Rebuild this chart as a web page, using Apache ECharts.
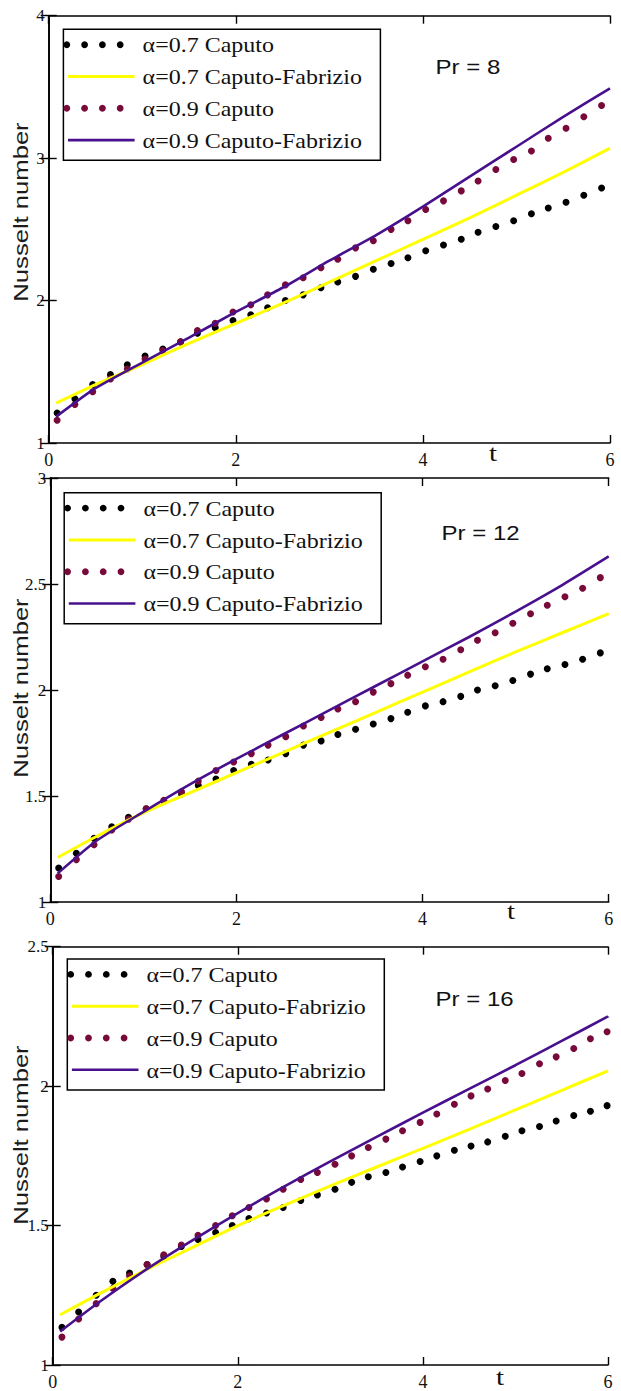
<!DOCTYPE html>
<html>
<head>
<meta charset="utf-8">
<script src="https://cdn.jsdelivr.net/npm/echarts@6/dist/echarts.min.js"></script>
<style>
  html, body { margin: 0; padding: 0; background: #fff; }
  #chart { width: 621px; height: 1391px; }
</style>
</head>
<body>
<div id="chart"></div>
<script>
// Sample times of the dotted (Caputo) solutions
const tDots = [0.09, 0.28, 0.47, 0.66, 0.84, 1.03, 1.22, 1.41, 1.59, 1.78, 1.97, 2.16, 2.34, 2.53, 2.72, 2.91,
               3.09, 3.28, 3.47, 3.66, 3.84, 4.03, 4.22, 4.41, 4.59, 4.78, 4.97, 5.16, 5.34, 5.53, 5.72, 5.91];
const tDots16 = [0.10, 0.28, 0.47, 0.65, 0.83, 1.02, 1.20, 1.39, 1.57, 1.76, 1.94, 2.12, 2.31, 2.49, 2.68, 2.86, 3.05,
                 3.23, 3.41, 3.60, 3.78, 3.97, 4.15, 4.34, 4.52, 4.70, 4.89, 5.07, 5.26, 5.44, 5.63, 5.81, 5.99];
// Sample times of the solid (Caputo-Fabrizio) solutions
const tLine = [0.08, 0.5, 1, 1.5, 2, 2.5, 3, 3.5, 4, 4.5, 5, 5.5, 6];

// Pr = 8
const capA07_Pr8 = [1.21, 1.31, 1.41, 1.48, 1.55, 1.61, 1.66, 1.71, 1.77, 1.81, 1.86, 1.90, 1.95, 2.00, 2.04, 2.09,
                    2.13, 2.17, 2.22, 2.26, 2.30, 2.35, 2.39, 2.43, 2.48, 2.52, 2.56, 2.61, 2.65, 2.69, 2.74, 2.79];
const capA09_Pr8 = [1.16, 1.27, 1.36, 1.45, 1.52, 1.59, 1.65, 1.71, 1.79, 1.84, 1.92, 1.97, 2.04, 2.11, 2.16, 2.23,
                    2.29, 2.37, 2.42, 2.50, 2.56, 2.64, 2.70, 2.77, 2.84, 2.92, 2.99, 3.05, 3.14, 3.21, 3.29, 3.37];
const cfA07_Pr8 = [1.28, 1.41, 1.55, 1.70, 1.84, 1.98, 2.13, 2.28, 2.43, 2.58, 2.74, 2.90, 3.07];
const cfA09_Pr8 = [1.185, 1.385, 1.565, 1.74, 1.92, 2.09, 2.28, 2.46, 2.66, 2.87, 3.08, 3.29, 3.49];

// Pr = 12
const capA07_Pr12 = [1.16, 1.23, 1.30, 1.355, 1.40, 1.44, 1.475, 1.51, 1.55, 1.58, 1.62, 1.65, 1.67, 1.70, 1.74, 1.76,
                     1.79, 1.815, 1.84, 1.865, 1.895, 1.925, 1.945, 1.97, 2.00, 2.02, 2.045, 2.075, 2.10, 2.12, 2.145, 2.175];
const capA09_Pr12 = [1.12, 1.20, 1.27, 1.34, 1.39, 1.44, 1.48, 1.52, 1.57, 1.62, 1.66, 1.70, 1.74, 1.78, 1.83, 1.87,
                     1.91, 1.945, 1.99, 2.03, 2.07, 2.11, 2.145, 2.19, 2.235, 2.27, 2.315, 2.36, 2.40, 2.44, 2.48, 2.53];
const cfA07_Pr12 = [1.21, 1.31, 1.42, 1.515, 1.61, 1.705, 1.80, 1.895, 1.99, 2.085, 2.18, 2.27, 2.36];
const cfA09_Pr12 = [1.135, 1.29, 1.425, 1.555, 1.675, 1.79, 1.905, 2.02, 2.135, 2.25, 2.37, 2.495, 2.63];

// Pr = 16
const capA07_Pr16 = [1.135, 1.19, 1.25, 1.30, 1.33, 1.36, 1.39, 1.425, 1.45, 1.475, 1.50, 1.525, 1.545, 1.565, 1.59, 1.61, 1.63,
                     1.655, 1.675, 1.69, 1.71, 1.73, 1.75, 1.77, 1.785, 1.80, 1.82, 1.84, 1.855, 1.875, 1.895, 1.91, 1.93];
const capA09_Pr16 = [1.10, 1.165, 1.22, 1.275, 1.32, 1.36, 1.395, 1.43, 1.465, 1.50, 1.535, 1.565, 1.595, 1.63, 1.665, 1.69, 1.72,
                     1.75, 1.78, 1.81, 1.84, 1.87, 1.90, 1.935, 1.965, 1.99, 2.02, 2.045, 2.08, 2.105, 2.135, 2.17, 2.195];
const cfA07_Pr16 = [1.18, 1.255, 1.34, 1.42, 1.50, 1.572, 1.642, 1.71, 1.777, 1.845, 1.915, 1.985, 2.055];
const cfA09_Pr16 = [1.12, 1.225, 1.34, 1.445, 1.545, 1.64, 1.73, 1.818, 1.905, 1.99, 2.075, 2.162, 2.25];

// Labels
const seriesNames = ['\u03b1=0.7 Caputo', '\u03b1=0.7 Caputo-Fabrizio', '\u03b1=0.9 Caputo', '\u03b1=0.9 Caputo-Fabrizio'];
const prLabels = ['Pr = 8', 'Pr = 12', 'Pr = 16'];
const yAxisTitle = 'Nusselt number';
const xAxisTitle = 't';

const COL = { a07dot: '#000000', a07cf: '#ffff00', a09dot: '#780a3a', a09cf: '#48108c' };
const SERIF = '"Liberation Serif", "Times New Roman", serif';
const SANS = '"Liberation Sans", Arial, sans-serif';

// Layout of the three stacked panels
const panels = [
  { grid: { left: 48.7, top: 15.7, width: 561.3, height: 427.3 }, yMax: 4, yStep: 1,
    tD: tDots, c07: capA07_Pr8, c09: capA09_Pr8, f07: cfA07_Pr8, f09: cfA09_Pr8,
    legend: [63.4, 29.3], pr: [435.6, 67], tLab: [493, 453], yName: [21, 212] },
  { grid: { left: 50.3, top: 478, width: 558.4, height: 424 }, yMax: 3, yStep: 0.5,
    tD: tDots, c07: capA07_Pr12, c09: capA09_Pr12, f07: cfA07_Pr12, f09: cfA09_Pr12,
    legend: [64.2, 492.7], pr: [441.6, 533.3], tLab: [511, 911], yName: [21, 688] },
  { grid: { left: 52.7, top: 946.7, width: 555.3, height: 421.3 }, yMax: 2.5, yStep: 0.5,
    tD: tDots16, c07: capA07_Pr16, c09: capA09_Pr16, f07: cfA07_Pr16, f09: cfA09_Pr16,
    legend: [67.3, 959], pr: [435.6, 999.3], tLab: [500, 1377], yName: [21, 1135] }
];

const axisLine = { show: true, lineStyle: { color: '#000', width: 1.6 } };
const axisTick = { show: true, inside: true, length: 8, lineStyle: { color: '#000', width: 1.4 } };

const grids = [], xAxes = [], yAxes = [], series = [], graphics = [];

function textEl(str, x, y, font, align, extra) {
  return Object.assign({
    type: 'text', x: x, y: y, scaleX: 1.2, silent: true,
    style: { text: str, font: font, fill: '#111',
             align: align, verticalAlign: 'middle', textAlign: align, textVerticalAlign: 'middle' }
  }, extra || {});
}

function legendGroup(x0, y0) {
  const kinds = [
    { dot: true, color: COL.a07dot },
    { dot: false, color: COL.a07cf, width: 3 },
    { dot: true, color: COL.a09dot },
    { dot: false, color: COL.a09cf, width: 2.6 }
  ];
  const children = [{
    type: 'rect', shape: { x: 0, y: 0, width: 317, height: 131 },
    style: { fill: '#fff', stroke: '#000', lineWidth: 1.5 }
  }];
  kinds.forEach((k, i) => {
    const cy = 15.4 + 31.8 * i;
    if (k.dot) {
      for (let j = 0; j < 4; j++) {
        children.push({ type: 'circle', shape: { cx: 3.4 + 17.8 * j, cy: cy, r: 3.4 }, style: { fill: k.color } });
      }
    } else {
      children.push({ type: 'line', shape: { x1: 4.6, y1: cy, x2: 71.2, y2: cy },
                      style: { stroke: k.color, lineWidth: k.width } });
    }
    children.push(textEl(seriesNames[i], 79.2, cy + 1, '20px ' + SERIF, 'left'));
  });
  return { type: 'group', x: x0, y: y0, silent: true, children: children };
}

panels.forEach((p, k) => {
  grids.push(Object.assign({ containLabel: false, show: false }, p.grid));

  const xBase = { type: 'value', gridIndex: k, min: 0, max: 6, interval: 2,
                  axisLine: axisLine, axisTick: axisTick, splitLine: { show: false } };
  xAxes.push(Object.assign({}, xBase, { position: 'bottom',
    axisLabel: { show: true, margin: 8, color: '#111', fontFamily: SERIF, fontSize: 18 } }));
  xAxes.push(Object.assign({}, xBase, { position: 'top', axisLabel: { show: false } }));

  const yBase = { type: 'value', gridIndex: k, min: 1, max: p.yMax, interval: p.yStep,
                  axisLine: axisLine, axisTick: axisTick, splitLine: { show: false } };
  yAxes.push(Object.assign({}, yBase, { position: 'left',
    axisLabel: { show: true, margin: 4, color: '#111', fontFamily: SERIF, fontSize: 17 } }));
  yAxes.push(Object.assign({}, yBase, { position: 'right', axisLabel: { show: false } }));

  const ax = { xAxisIndex: 2 * k, yAxisIndex: 2 * k };
  series.push(Object.assign({
    type: 'scatter', name: seriesNames[0], symbolSize: 7,
    itemStyle: { color: COL.a07dot, opacity: 1 }, data: p.tD.map((t, i) => [t, p.c07[i]])
  }, ax));
  series.push(Object.assign({
    type: 'line', name: seriesNames[1], showSymbol: false, symbol: 'none', smooth: 0.2,
    lineStyle: { color: COL.a07cf, width: 3 }, data: tLine.map((t, i) => [t, p.f07[i]])
  }, ax));
  series.push(Object.assign({
    type: 'scatter', name: seriesNames[2], symbolSize: 7,
    itemStyle: { color: COL.a09dot, opacity: 1 }, data: p.tD.map((t, i) => [t, p.c09[i]])
  }, ax));
  series.push(Object.assign({
    type: 'line', name: seriesNames[3], showSymbol: false, symbol: 'none', smooth: 0.2,
    lineStyle: { color: COL.a09cf, width: 2.6 }, data: tLine.map((t, i) => [t, p.f09[i]])
  }, ax));

  graphics.push(legendGroup(p.legend[0], p.legend[1]));
  graphics.push(textEl(prLabels[k], p.pr[0], p.pr[1], '20px ' + SANS, 'left'));
  graphics.push(textEl(xAxisTitle, p.tLab[0], p.tLab[1], '24px ' + SERIF, 'center'));
  const yt = textEl(yAxisTitle, p.yName[0], p.yName[1], '21px ' + SANS, 'center',
                    { rotation: Math.PI / 2, scaleX: 1.22 });
  yt.style.fill = '#1c1c1c';
  graphics.push(yt);
});

const chart = echarts.init(document.getElementById('chart'), null, { renderer: 'svg' });
chart.setOption({
  backgroundColor: '#ffffff',
  animation: false,
  grid: grids,
  xAxis: xAxes,
  yAxis: yAxes,
  series: series,
  graphic: { elements: graphics }
});
</script>
</body>
</html>
